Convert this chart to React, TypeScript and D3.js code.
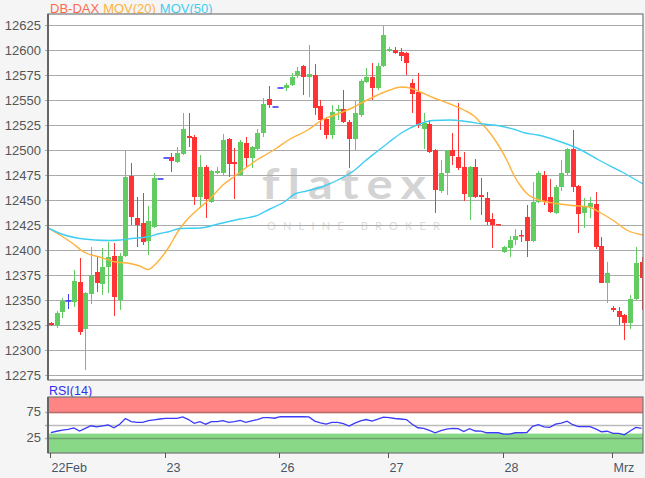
import React from 'react';
import * as d3 from 'd3';

const W = 645;
const H = 478;

// Day labels and index of first candle of each day
const dayLabels = ['22Feb', '23', '26', '27', '28', 'Mrz'];
const dayStartIdx = [0, 20, 40, 59, 79, 98];

// Hourly candles (OHLC)
const openVals = [
  12327, 12324, 12338, 12349, 12348, 12368, 12321, 12356, 12378, 12366, 12383, 12394, 12350, 12394, 12474, 12432, 12427, 12409, 12423, 12471,
  12492, 12493, 12488, 12496, 12514, 12513, 12453, 12483, 12448, 12477, 12477, 12511, 12488, 12475, 12507, 12492, 12501, 12517, 12551, 12543,
  12562, 12562, 12565, 12574, 12584, 12573, 12575, 12544, 12531, 12515, 12539, 12541, 12528, 12511, 12535, 12568, 12573, 12562, 12584,
  12599, 12600, 12598, 12597, 12567, 12558, 12521, 12526, 12500, 12459, 12477, 12500, 12493, 12483, 12453, 12483, 12455, 12452, 12431, 12426,
  12398, 12402, 12410, 12415, 12433, 12409, 12448, 12475, 12453, 12437, 12463, 12477, 12501, 12464, 12437, 12443, 12446, 12404, 12367,
  12342, 12339, 12335, 12327, 12351, 12388,
];
const highVals = [
  12328, 12339, 12352, 12356, 12380, 12392, 12358, 12403, 12393, 12402, 12408, 12407, 12397, 12500, 12487, 12453, 12457, 12444, 12477, 12471,
  12492, 12497, 12503, 12537, 12537, 12515, 12495, 12485, 12480, 12483, 12516, 12512, 12502, 12510, 12513, 12504, 12521, 12552, 12564, 12543,
  12562, 12567, 12577, 12583, 12585, 12605, 12586, 12550, 12533, 12545, 12545, 12560, 12530, 12549, 12571, 12582, 12587, 12587, 12624,
  12603, 12603, 12602, 12598, 12571, 12577, 12537, 12530, 12501, 12490, 12500, 12517, 12547, 12498, 12484, 12491, 12472, 12458, 12437, 12426,
  12404, 12414, 12421, 12420, 12445, 12468, 12479, 12479, 12471, 12465, 12490, 12502, 12520, 12465, 12452, 12453, 12458, 12413, 12388,
  12344, 12343, 12336, 12355, 12403, 12393,
];
const lowVals = [
  12324, 12322, 12332, 12341, 12343, 12315, 12280, 12346, 12358, 12355, 12357, 12334, 12340, 12393, 12425, 12403, 12405, 12395, 12422, 12471,
  12492, 12478, 12487, 12495, 12503, 12445, 12442, 12432, 12447, 12476, 12475, 12473, 12451, 12474, 12483, 12482, 12500, 12513, 12542, 12543,
  12562, 12559, 12564, 12572, 12555, 12553, 12535, 12520, 12511, 12511, 12530, 12527, 12482, 12500, 12533, 12567, 12550, 12560, 12583,
  12598, 12596, 12589, 12575, 12537, 12522, 12501, 12497, 12437, 12457, 12455, 12485, 12480, 12449, 12430, 12452, 12435, 12425, 12402, 12425,
  12397, 12393, 12405, 12408, 12393, 12408, 12447, 12445, 12437, 12436, 12459, 12475, 12458, 12417, 12422, 12432, 12401, 12367, 12347,
  12338, 12325, 12310, 12321, 12350, 12340,
];
const closeVals = [
  12325, 12337, 12349, 12349, 12369, 12318, 12357, 12375, 12367, 12383, 12393, 12353, 12394, 12473, 12433, 12425, 12408, 12429, 12472, 12471,
  12492, 12489, 12497, 12521, 12512, 12453, 12483, 12451, 12479, 12479, 12510, 12486, 12486, 12508, 12492, 12503, 12517, 12546, 12545, 12543,
  12562, 12565, 12573, 12579, 12573, 12576, 12542, 12530, 12515, 12538, 12541, 12528, 12511, 12537, 12569, 12573, 12562, 12584, 12615,
  12601, 12597, 12594, 12587, 12556, 12525, 12527, 12498, 12460, 12477, 12500, 12494, 12482, 12456, 12483, 12453, 12453, 12428, 12425, 12425,
  12403, 12410, 12414, 12414, 12409, 12448, 12477, 12449, 12438, 12463, 12477, 12501, 12463, 12436, 12444, 12447, 12403, 12367, 12377,
  12340, 12333, 12327, 12351, 12387, 12372,
];

// Moving averages: candle position / value
const ma20Idx = [-0.5, 1.6, 3.7, 5.9, 8.5, 11.3, 13.8, 15.5, 16.9, 18.1, 19.2, 20.7, 22.1, 23.4, 25.5, 27.7, 30, 32.1, 34.2, 35.9, 37.7, 39.4, 41.7, 44.8, 47.3, 50, 52.5, 54.8, 57, 59.1, 61.2, 62.6, 64, 66.8, 69.6, 72, 73.8, 74.8, 76, 77.8, 79.5, 80.9, 81.9, 83.3, 85.1, 88.1, 91, 93.8, 95.9, 98.2, 100.4, 103.25];
const ma20Val = [12422, 12415, 12407, 12397.5, 12393, 12388, 12386.5, 12384, 12380.5, 12385, 12392, 12404, 12418, 12428, 12440, 12451, 12465, 12474, 12483, 12490, 12496, 12502, 12511, 12520, 12530, 12536, 12542, 12549, 12555, 12560, 12563, 12562, 12559, 12552, 12546, 12540, 12534, 12528, 12521, 12507, 12490, 12473, 12464, 12455, 12450, 12446.5, 12444.5, 12443, 12437, 12429, 12420, 12415];
const ma50Idx = [-0.5, 1.6, 4.5, 7.7, 10.3, 12.2, 14.1, 16.7, 19, 20.7, 22.5, 26, 29.5, 33, 35.7, 38.2, 40.8, 42.5, 44.6, 47.4, 50.4, 53, 54.8, 57, 59.1, 61.4, 63.8, 66.6, 69.6, 72.5, 75.3, 78.3, 80.9, 82.7, 84.9, 88.2, 91.9, 95.7, 99.6, 103.25];
const ma50Val = [12422, 12416.5, 12412, 12410, 12409.5, 12410, 12411.5, 12413, 12416.5, 12418.5, 12421.5, 12422, 12426.5, 12431, 12434, 12441, 12448.5, 12456, 12459, 12463.5, 12471, 12480, 12489, 12499, 12508.5, 12518, 12525, 12529.5, 12530, 12528.5, 12526, 12524, 12520.5, 12517, 12515, 12509.5, 12501.5, 12489.5, 12478, 12466];

// RSI(14), one value per candle
const rsiVals = [
  35, 37.5, 39.5, 41, 44, 38, 43, 48, 46, 48, 49.5, 44, 51, 62, 56, 54.6, 54.6, 58, 59.5, 61,
  62.3, 62.3, 62.3, 65, 60, 52.7, 56, 51, 55.8, 55.8, 58, 54.6, 56, 58.5, 54.6, 57.5, 60, 63.5, 63.5, 62.5,
  65.4, 65.4, 65.4, 65.4, 65.4, 65, 57, 53.8, 51.3, 54.6, 54.6, 52, 47.5, 53, 57.5, 60, 57, 61, 64.5,
  63.5, 62, 61, 60, 51, 44.2, 43, 39, 34.6, 38.5, 41.5, 43, 42.5, 37, 42.5, 38, 37.9, 34.6, 34.6, 34.6,
  32, 32.1, 34.6, 34.6, 35, 47, 50, 46, 45, 51, 53, 57, 50, 46.5, 46.2, 46.2, 42, 36.5, 37.5,
  33.5, 33.5, 30.5, 38, 45, 43,
];

const priceTicks = [12275, 12300, 12325, 12350, 12375, 12400, 12425, 12450, 12475, 12500, 12525, 12550, 12575, 12600, 12625];
const rsiTicks = [25, 75];
const rsiGrid = [25, 50, 75];

const GREEN = '#62CC62';
const RED = '#FF3333';
const BLUE = '#3B3BF5';
const ORANGE = '#FFB23C';
const CYAN = '#3FCDF2';
const FONT = '"Liberation Sans", Arial, sans-serif';

export default function App() {
  const left = 48, right = 643, top = 14, bottom = 380;
  const rTop = 397, rBottom = 453;
  const x = d3.scaleLinear().domain([-0.5, 103.25]).range([left, right]);
  const y = d3.scaleLinear().domain([12270, 12636]).range([bottom, top]);
  const yR = d3.scaleLinear().domain([-4.3, 103.3]).range([rBottom, rTop]);

  const ma20 = ma20Idx.map((d, i) => [d, ma20Val[i]] as [number, number]);
  const ma50 = ma50Idx.map((d, i) => [d, ma50Val[i]] as [number, number]);
  const maLine = d3.line<[number, number]>().x((d) => x(d[0])).y((d) => y(d[1])).curve(d3.curveMonotoneX);
  const rsiLine = d3.line<number>().x((_, i) => x(i)).y((d) => yR(d));

  const candles = openVals.map((o, i) => {
    const c = closeVals[i];
    const cx = Math.round(x(i)) + 0.5;
    const col = c > o ? GREEN : c < o ? RED : BLUE;
    const yTop = y(Math.max(o, c));
    const yBot = y(Math.min(o, c));
    return (
      <g key={i}>
        <line x1={cx} x2={cx} y1={y(highVals[i])} y2={y(lowVals[i])} stroke={col} strokeWidth={1} />
        {c === o ? (
          <line x1={cx - 3} x2={cx + 3} y1={yTop} y2={yTop} stroke={col} strokeWidth={1.6} />
        ) : (
          <rect x={cx - 2.5} y={yTop} width={5} height={Math.max(1.5, yBot - yTop)} fill={col} />
        )}
      </g>
    );
  });

  return (
    <div style={{ position: 'absolute', left: 0, top: 0 }}>
      <svg width={W} height={H} style={{ display: 'block', fontFamily: FONT }}>
        <defs>
          <clipPath id="mainClip">
            <rect x={left} y={top} width={right - left} height={bottom - top} />
          </clipPath>
          <clipPath id="rsiClip">
            <rect x={left} y={rTop} width={right - left} height={rBottom - rTop} />
          </clipPath>
        </defs>
        <rect x={0} y={0} width={W} height={H} fill="#F5F5F5" />

        {/* Legend */}
        <text x={50} y={13} fontSize={13}>
          <tspan fill="#FF6A4D">DB-DAX</tspan>
          <tspan fill={ORANGE} dx={4}>MOV(20)</tspan>
          <tspan fill={CYAN} dx={4}>MOV(50)</tspan>
        </text>

        {/* Main panel */}
        <rect x={left} y={top} width={right - left} height={bottom - top} fill="#FFFFFF" />
        <g>
          <text x={262} y={199} fontSize={42} fontWeight={700} fontFamily="Lato, sans-serif" fill="#D4D4D4" letterSpacing={7} textLength={172} lengthAdjust="spacingAndGlyphs">flatex</text>
          <text x={267} y={230} fontSize={11} fontFamily="Lato, sans-serif" fill="#DCDCDC" textLength={173} lengthAdjust="spacing">ONLINE BROKER</text>
        </g>
        {priceTicks.map((t) => (
          <g key={t}>
            <line x1={left - 3} x2={right} y1={Math.round(y(t)) + 0.5} y2={Math.round(y(t)) + 0.5} stroke="#AAAAAA" strokeWidth={1.2} />
            <text x={41} y={y(t)} dy="0.35em" textAnchor="end" fontSize={13} fill="#555555">{t}</text>
          </g>
        ))}
        <g clipPath="url(#mainClip)">
          {candles}
          <path d={maLine(ma20) || ''} fill="none" stroke={ORANGE} strokeWidth={1.4} />
          <path d={maLine(ma50) || ''} fill="none" stroke={CYAN} strokeWidth={1.4} />
        </g>
        <rect x={left} y={top} width={right - left} height={bottom - top} fill="none" stroke="#777777" strokeWidth={1.2} />
        <line x1={left} x2={left} y1={top} y2={bottom} stroke="#666666" strokeWidth={2} />

        {/* RSI panel */}
        <text x={49} y={395} fontSize={12.5} fill="#2F2FF0">RSI(14)</text>
        <rect x={left} y={rTop} width={right - left} height={rBottom - rTop} fill="#FFFFFF" />
        <rect x={left} y={rTop} width={right - left} height={yR(72) - rTop} fill="#FF8585" />
        <rect x={left} y={yR(33)} width={right - left} height={rBottom - yR(33)} fill="#88D888" />
        {rsiGrid.map((t) => (
          <line key={t} x1={left - 3} x2={right} y1={Math.round(yR(t)) + 0.5} y2={Math.round(yR(t)) + 0.5} stroke="rgba(60,60,60,0.35)" strokeWidth={1.3} />
        ))}
        {rsiTicks.map((t) => (
          <text key={t} x={41} y={yR(t)} dy="0.35em" textAnchor="end" fontSize={13} fill="#555555">{t}</text>
        ))}
        <g clipPath="url(#rsiClip)">
          <path d={rsiLine(rsiVals) || ''} fill="none" stroke="#3A3AF8" strokeWidth={1.3} />
        </g>
        <rect x={left} y={rTop} width={right - left} height={rBottom - rTop} fill="none" stroke="#777777" strokeWidth={1.2} />
        <line x1={left} x2={left} y1={rTop} y2={rBottom} stroke="#666666" strokeWidth={2} />

        {/* X axis */}
        {dayStartIdx.map((idx, k) => {
          const tx = Math.round(x(idx)) - 0.5;
          return (
            <g key={k}>
              <line x1={tx} x2={tx} y1={rBottom} y2={rBottom + 5} stroke="#555555" strokeWidth={1} />
              <text x={tx + 1} y={472} fontSize={12.5} fill="#46566A">{dayLabels[k]}</text>
            </g>
          );
        })}
      </svg>
    </div>
  );
}
